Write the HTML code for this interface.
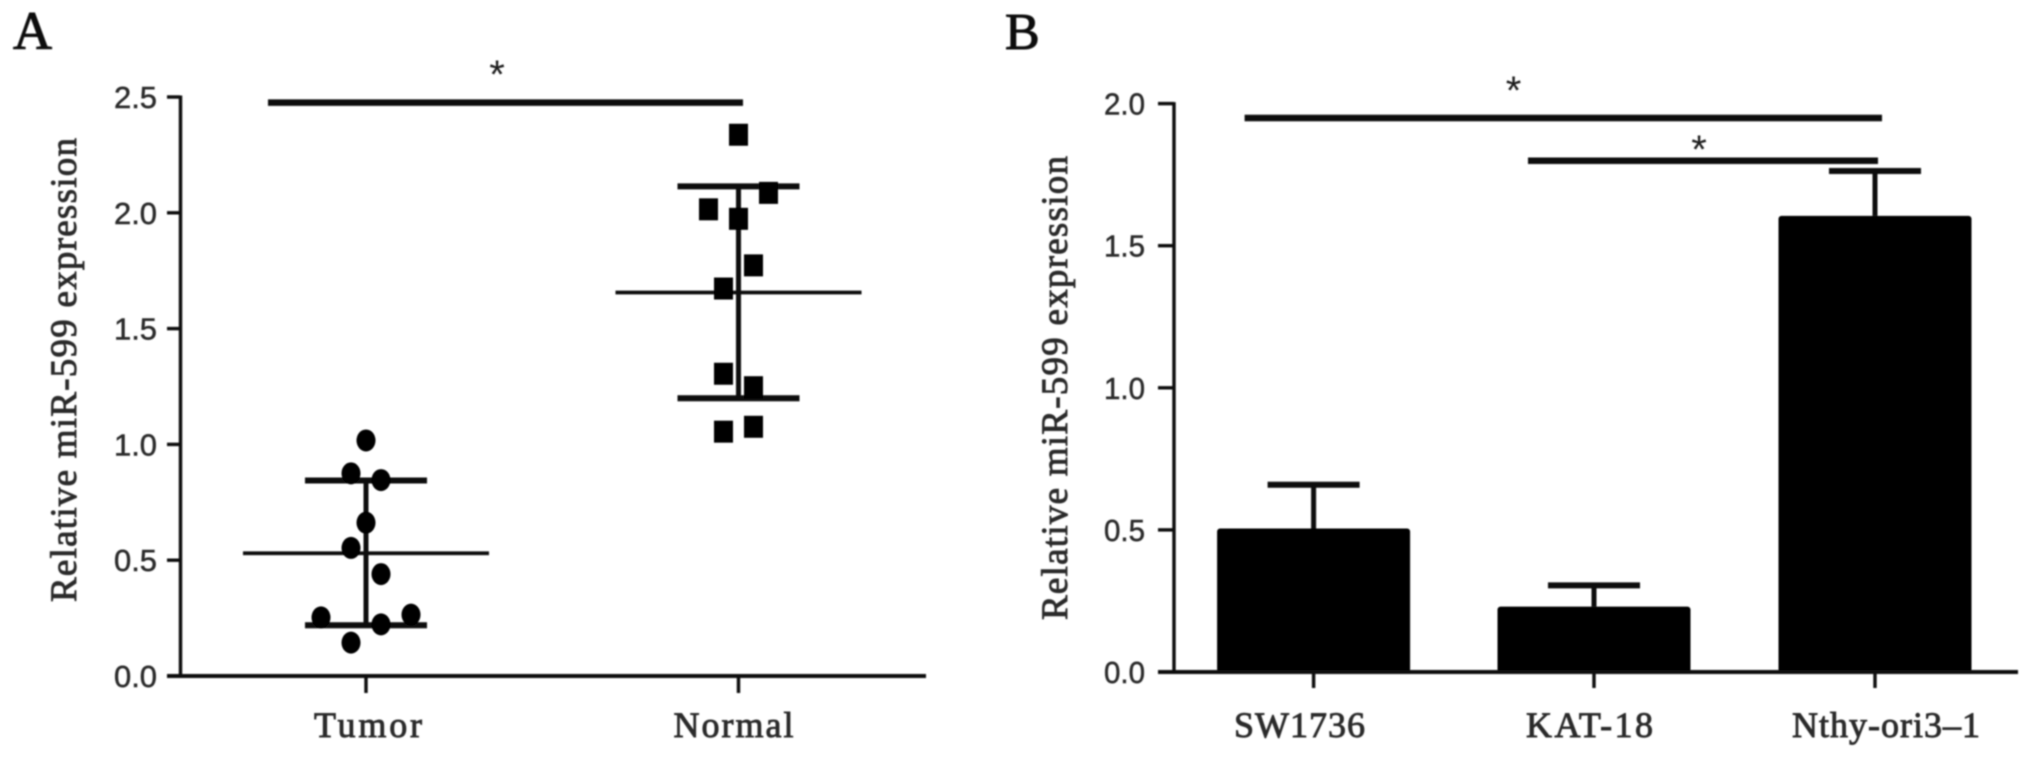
<!DOCTYPE html>
<html>
<head>
<meta charset="utf-8">
<title>miR-599 expression charts</title>
<style>
html,body{margin:0;padding:0;background:#fff;width:2031px;height:759px;overflow:hidden}
svg{display:block}
text{fill:#1c1c1c}
.tick{font-family:"Liberation Sans",sans-serif;font-size:31px;fill:#2a2a2a;stroke:#2a2a2a;stroke-width:.5px}
.serif{font-family:"Liberation Serif",serif;stroke:#2a2a2a;stroke-width:.9px;fill:#2a2a2a}
</style>
</head>
<body>
<svg id="chart" xmlns="http://www.w3.org/2000/svg" width="2031" height="759" viewBox="0 0 2031 759">
  <defs><filter id="soft" x="-2%" y="-2%" width="104%" height="104%"><feGaussianBlur stdDeviation="0.7"/></filter></defs>
  <rect width="2031" height="759" fill="#fff"/>
  <g id="root" filter="url(#soft)">
    <text x="13" y="49" font-family="Liberation Serif, serif" font-size="54" stroke="#111" stroke-width="1" style="fill:#111">A</text>
    <text x="1005" y="49" font-family="Liberation Serif, serif" font-size="52" stroke="#111" stroke-width="1" style="fill:#111">B</text>
  </g>
</svg>
<script>
// Panel A data
const aTicks = [0, 0.5, 1, 1.5, 2, 2.5];
const aTickLabels = ['0.0', '0.5', '1.0', '1.5', '2.0', '2.5'];
const aCategories = ['Tumor', 'Normal'];
const tumorValues = [1.017, 0.875, 0.846, 0.662, 0.553, 0.44, 0.253, 0.265, 0.223, 0.144];
const tumorSlots = [0, -1, 1, 0, -1, 1, -3, 3, 1, -1];
const normalValues = [2.337, 2.086, 2.015, 1.974, 1.773, 1.673, 1.305, 1.247, 1.076, 1.055];
const normalSlots = [0, 2, -2, 0, 1, -1, -1, 1, 1, -1];
const aMeans = [0.53, 1.656];
const aUpper = [0.844, 2.114];
const aLower = [0.219, 1.199];
// Panel B data
const bTicks = [0, 0.5, 1, 1.5, 2];
const bTickLabels = ['0.0', '0.5', '1.0', '1.5', '2.0'];
const bCategories = ['SW1736', 'KAT-18', 'Nthy-ori3\u20131'];
const bValues = [0.505, 0.23, 1.605];
const bErrorTops = [0.659, 0.305, 1.763];

const NS = 'http://www.w3.org/2000/svg';
const root = document.getElementById('root');
function mk(tag, attrs, txt) {
  const n = document.createElementNS(NS, tag);
  for (const k in attrs) n.setAttribute(k, attrs[k]);
  if (txt !== undefined) n.textContent = txt;
  root.appendChild(n);
  return n;
}
function line(x1, y1, x2, y2, w) {
  return mk('line', {x1: x1, y1: y1, x2: x2, y2: y2, stroke: '#0a0a0a', 'stroke-width': w});
}
// Axis functions
const ax = {y0: 676, pxPerUnit: 231.6, xPos: [366, 738.5]};
const bx = {y0: 672, pxPerUnit: 284.2, xPos: [1313.6, 1594, 1875]};
const yA = v => ax.y0 - v * ax.pxPerUnit;
const yB = v => bx.y0 - v * bx.pxPerUnit;
const slotPx = 15;
let el;

// ---------- Panel A ----------
el = line(180.5, yA(2.5) - 1.5, 180.5, ax.y0 + 2, 3.4);


el = line(167, ax.y0, 926, ax.y0, 4);


aTicks.forEach((t, i) => {
  let m = line(167, yA(t), 180, yA(t), 3.4);
  
  
  m = mk('text', {class: 'tick', x: 157, y: yA(t) + 11, 'text-anchor': 'end', textLength: 43, lengthAdjust: 'spacingAndGlyphs'}, aTickLabels[i]);
  
  
});
aCategories.forEach((c, i) => {
  const x = ax.xPos[i];
  let m = line(x, ax.y0, x, 693, 3.4);
  
  
  m = mk('text', {class: 'serif', x: x + (i ? -5 : 2), y: 737, 'font-size': 36, 'text-anchor': 'middle', textLength: i ? 120 : 108, lengthAdjust: 'spacing'}, c);
  
  
  m = line(x - 123, yA(aMeans[i]), x + 123, yA(aMeans[i]), 3.8);
  
  
  m = line(x, yA(aUpper[i]), x, yA(aLower[i]), 5);
  
  
  m = line(x - 61, yA(aUpper[i]), x + 61, yA(aUpper[i]), 6);
  
  
  m = line(x - 61, yA(aLower[i]), x + 61, yA(aLower[i]), 6);
  
  
});
tumorValues.forEach((v, i) => {
  const m = mk('ellipse', {cx: ax.xPos[0] + tumorSlots[i] * slotPx, cy: yA(v), rx: 9.5, ry: 11, fill: '#000'});
  
  
});
normalValues.forEach((v, i) => {
  const m = mk('rect', {x: ax.xPos[1] + normalSlots[i] * slotPx - 9.5, y: yA(v) - 11, width: 19, height: 22, fill: '#000'});
  
  
});
el = line(268, 102.6, 743, 102.6, 6.5);


el = mk('text', {x: 497, y: 88, 'font-family': 'Liberation Sans, sans-serif', 'font-size': 40, 'text-anchor': 'middle'}, '*');


el = mk('text', {class: 'serif', transform: 'translate(76,602) rotate(-90)', 'font-size': 37, textLength: 464, lengthAdjust: 'spacing'}, 'Relative miR-599 expression');



// ---------- Panel B ----------
const bW = 193, capHalf = 46;
bCategories.forEach((c, i) => {
  const x = bx.xPos[i];
  let m = line(x, yB(bErrorTops[i]), x, yB(bValues[i]), 5);
  
  
  m = line(x - capHalf, yB(bErrorTops[i]), x + capHalf, yB(bErrorTops[i]), 6);
  
  
  m = mk('rect', {x: x - bW / 2, y: yB(bValues[i]), width: bW, height: bx.y0 - yB(bValues[i]), rx: 3, fill: '#000'});
  
  
  m = line(x, bx.y0, x, 688, 3.4);
  
  
  m = mk('text', {class: 'serif', x: [1299.5, 1589.5, 1886][i], y: 737, 'font-size': 36, 'text-anchor': 'middle', textLength: [131, 127, 188][i], lengthAdjust: 'spacing'}, c);
  
  
});
el = line(1174, yB(2) - 1.5, 1174, bx.y0 + 2, 3.4);


el = line(1158, bx.y0, 2018, bx.y0, 4);


bTicks.forEach((t, i) => {
  let m = line(1158, yB(t), 1174, yB(t), 3.4);
  
  
  m = mk('text', {class: 'tick', x: 1145, y: yB(t) + 11, 'text-anchor': 'end', textLength: 41, lengthAdjust: 'spacingAndGlyphs'}, bTickLabels[i]);
  
  
});
el = line(1244.6, 118, 1882, 118, 6.5);


el = line(1528, 160.7, 1878, 160.7, 6.5);


el = mk('text', {x: 1513.5, y: 104, 'font-family': 'Liberation Sans, sans-serif', 'font-size': 40, 'text-anchor': 'middle'}, '*');


el = mk('text', {x: 1699, y: 163, 'font-family': 'Liberation Sans, sans-serif', 'font-size': 40, 'text-anchor': 'middle'}, '*');


el = mk('text', {class: 'serif', transform: 'translate(1067,620) rotate(-90)', 'font-size': 37, textLength: 464, lengthAdjust: 'spacing'}, 'Relative miR-599 expression');


</script>
</body>
</html>
